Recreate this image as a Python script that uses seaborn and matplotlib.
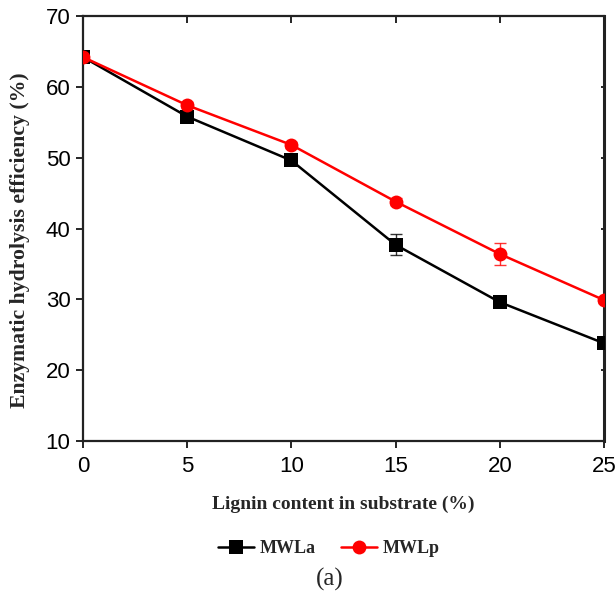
import matplotlib
matplotlib.use("Agg")
import matplotlib.pyplot as plt
import seaborn as sns
import pandas as pd

# Lignin content in substrate (%)
lignin = [0, 5, 10, 15, 20, 25]
# Enzymatic hydrolysis efficiency (%) and standard deviations
mwla = [64.2, 55.8, 49.6, 37.7, 29.6, 23.8]
mwla_err = [0.4, 0.4, 0.4, 1.5, 0.5, 0.4]
mwlp = [64.2, 57.4, 51.8, 43.8, 36.4, 29.9]
mwlp_err = [0.3, 0.4, 0.4, 0.5, 1.6, 0.4]
series_names = ["MWLa", "MWLp"]
x_ticks = [0, 5, 10, 15, 20, 25]
y_ticks = [10, 20, 30, 40, 50, 60, 70]

sns.set_theme(style="white")
plt.rcParams["font.family"] = ["Liberation Sans", "DejaVu Sans"]

df = pd.DataFrame({
    "lignin": lignin * 2,
    "eff": mwla + mwlp,
    "err": mwla_err + mwlp_err,
    "sample": [series_names[0]] * len(lignin) + [series_names[1]] * len(lignin),
})

fig = plt.figure(figsize=(6.16, 5.96), dpi=100)
ax = fig.add_axes([0.1347, 0.260, 0.8458, 0.7132])

palette = {"MWLa": "black", "MWLp": "#ff0000"}
markers = {"MWLa": "s", "MWLp": "o"}

for name in series_names:
    sub = df[df["sample"] == name]
    ax.errorbar(sub["lignin"], sub["eff"], yerr=sub["err"], fmt="none",
                ecolor=palette[name], elinewidth=1.0, capsize=4, capthick=1.0,
                zorder=2, alpha=0.8)

sns.lineplot(data=df, x="lignin", y="eff", hue="sample", style="sample",
             palette=palette, markers=markers, dashes=False,
             markersize=10, markeredgewidth=0, linewidth=1.8,
             ax=ax, legend=False, zorder=3)

ax.set_xlim(0, 25)
ax.set_ylim(10, 70)
ax.set_xticks(x_ticks)
ax.set_yticks(y_ticks)
ax.tick_params(axis="both", which="major", direction="out", length=5, width=1.2,
               labelsize=16, color="black", labelcolor="black",
               bottom=True, left=True)
ax.tick_params(axis="x", which="major", pad=6)
ax.tick_params(axis="y", which="major", pad=4)
ax.xaxis.set_ticks_position("both")
ax.yaxis.set_ticks_position("both")
# ticks on the mirrored spines point inward
for t in ax.xaxis.get_major_ticks():
    t.tick2line.set_marker(3)
    t.tick2line.set_markersize(5)
for t in ax.yaxis.get_major_ticks():
    t.tick2line.set_marker(0)
    t.tick2line.set_markersize(2)

for side, sp in ax.spines.items():
    sp.set_color("#222222")
    sp.set_linewidth(1.6 if side in ("top", "left", "bottom") else 2.2)

serif = ["Liberation Serif", "DejaVu Serif"]
ax.set_xlabel("Lignin content in substrate (%)", labelpad=13,
              family=serif, weight="bold", size=14)
ax.set_ylabel("Enzymatic hydrolysis efficiency (%)",
              family=serif, weight="bold", size=15.7)
ax.yaxis.set_label_coords(-0.121, 0.473)
ax.yaxis.label.set_va("center")

handles = [
    plt.Line2D([], [], color=palette[n], marker=markers[n], markersize=10,
               markeredgewidth=0, linewidth=1.8)
    for n in series_names
]
fig.legend(handles, series_names, loc="center", bbox_to_anchor=(0.534, 0.080),
           ncol=2, frameon=False, handlelength=2.0, columnspacing=1.4,
           handletextpad=0.3,
           prop=dict(family=serif, weight="bold", size=13))

fig.text(0.535, 0.028, "(a)", ha="center", va="center", family=serif, size=18)

fig.savefig("out.png", dpi=100, facecolor="white")
